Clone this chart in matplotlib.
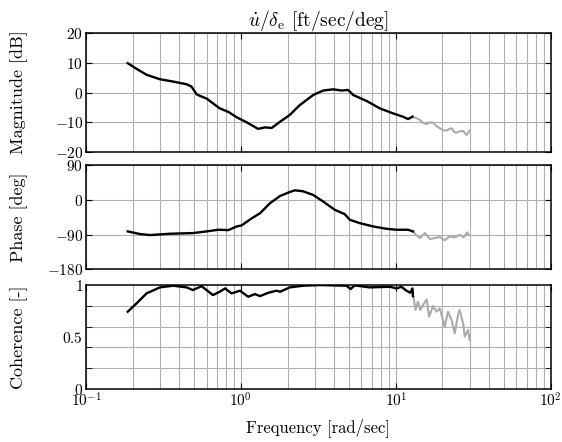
import numpy as np
import matplotlib
matplotlib.use("Agg")
import matplotlib.pyplot as plt
from matplotlib.ticker import FixedLocator, FuncFormatter, LogLocator, NullFormatter

plt.rcParams['font.family'] = 'serif'
plt.rcParams['font.serif'] = ['cmr10', 'DejaVu Serif']
plt.rcParams['mathtext.fontset'] = 'cm'
plt.rcParams['axes.formatter.use_mathtext'] = True
plt.rcParams['font.size'] = 12

# magnitude, coherent part (black) and the rest (gray)
mag_f = [0.186, 0.212, 0.246, 0.30, 0.366, 0.446, 0.48, 0.518, 0.544, 0.60, 0.66, 0.73,
         0.83, 0.94, 1.09, 1.29, 1.43, 1.58, 1.79, 2.07, 2.40, 2.93, 3.40, 3.94, 4.46,
         4.92, 5.3, 6.47, 7.88, 9.6, 11.1, 12.0, 12.8]
mag_db = [9.9, 8.0, 6.0, 4.5, 3.7, 2.8, 2.0, -0.6, -1.1, -2.0, -3.6, -5.3,
          -6.5, -8.3, -10.0, -12.2, -11.7, -11.9, -9.8, -7.5, -4.2, -0.8, 0.7, 1.1, 0.7,
          0.9, -0.8, -2.8, -5.3, -7.0, -8.1, -8.9, -8.1]
mag_f2 = [12.8, 13.6, 14.3, 15.0, 15.8, 16.6, 17.4, 18.3, 19.2, 20.2, 21.2, 22.0, 22.9,
          23.8, 24.6, 25.9, 27.2, 28.6, 30.0]
mag_db2 = [-8.1, -8.6, -9.2, -10.2, -10.6, -10.0, -10.1, -11.3, -12.0, -12.6, -12.8, -12.3,
           -12.0, -13.2, -13.5, -13.0, -12.9, -14.3, -12.8]

ph_f = [0.186, 0.223, 0.259, 0.348, 0.493, 0.60, 0.714, 0.83, 0.94, 1.01, 1.17, 1.33,
        1.54, 1.79, 2.07, 2.23, 2.52, 2.93, 3.40, 4.04, 4.68, 5.05, 5.85, 7.13, 8.7,
        10.1, 12.0, 12.9]
ph_deg = [-81.8, -88.7, -91.3, -87.9, -86.1, -81.8, -77.5, -78.4, -68.9, -66.3, -48.2, -34.5,
          -8.6, 10.3, 20.7, 25.0, 22.4, 12.9, -4.3, -25.8, -37.0, -51.7, -60.3, -68.9, -75.0,
          -77.5, -77.5, -81.8]
ph_f2 = [12.9, 13.6, 14.3, 15.4, 16.6, 17.8, 19.2, 20.7, 22.2, 24.0, 25.8, 27.4, 28.8, 29.6]
ph_deg2 = [-81.8, -92.0, -99.0, -86.0, -101.6, -99.0, -96.5, -105.0, -94.7, -97.3, -90.4,
           -97.3, -84.4, -91.3]

coh_f = [0.186, 0.212, 0.246, 0.30, 0.366, 0.446, 0.49, 0.557, 0.60, 0.66, 0.73, 0.79,
         0.87, 0.985, 1.115, 1.23, 1.33, 1.50, 1.70, 1.79, 2.07, 2.52, 3.23, 4.81, 5.1,
         5.43, 6.77, 9.17, 10.1, 10.86, 11.7, 12.4, 12.8, 12.9]
coh = [0.744, 0.824, 0.92, 0.978, 0.994, 0.978, 0.952, 0.99, 0.952, 0.904, 0.936, 0.968,
       0.92, 0.946, 0.888, 0.913, 0.894, 0.926, 0.946, 0.936, 0.978, 0.994, 1.0, 0.994, 0.962,
       0.997, 0.978, 0.984, 0.968, 0.984, 0.946, 0.926, 0.968, 0.894]
coh_f2 = [12.9, 13.0, 13.4, 13.9, 14.4, 15.0, 15.8, 16.4, 17.4, 18.3, 19.2, 20.7, 21.7,
          22.9, 24.0, 25.2, 25.8, 27.2, 27.8, 29.2, 30.0]
coh2 = [0.894, 0.888, 0.76, 0.84, 0.76, 0.81, 0.862, 0.696, 0.80, 0.744, 0.776, 0.60, 0.744,
        0.663, 0.535, 0.712, 0.76, 0.631, 0.503, 0.567, 0.47]

fig = plt.figure(figsize=(5.62, 4.42), dpi=100)
ax1 = fig.add_axes([0.153, 0.656, 0.827, 0.269])
ax2 = fig.add_axes([0.153, 0.391, 0.827, 0.235])
ax3 = fig.add_axes([0.153, 0.120, 0.827, 0.235])

black = '#000000'
gray = '#aaaaaa'
mfmt = FuncFormatter(lambda v, p: '$%g$' % v)

ax1.plot(mag_f2, mag_db2, color=gray, lw=1.5)
ax1.plot(mag_f, mag_db, color=black, lw=1.7)
ax2.plot(ph_f2, ph_deg2, color=gray, lw=1.5)
ax2.plot(ph_f, ph_deg, color=black, lw=1.7)
ax3.plot(coh_f2, coh2, color=gray, lw=1.5)
ax3.plot(coh_f, coh, color=black, lw=1.7)

for ax in (ax1, ax2, ax3):
    ax.set_xscale('log')
    ax.set_xlim(0.1, 100)
    ax.xaxis.set_major_locator(LogLocator(base=10, numticks=10))
    ax.xaxis.set_minor_locator(LogLocator(base=10, subs=np.arange(2, 10), numticks=10))
    ax.xaxis.set_minor_formatter(NullFormatter())
    ax.grid(True, which='both', axis='x', color='#b0b0b0', lw=0.8)
    ax.tick_params(which='both', direction='in', top=True, right=True, labelsize=11, pad=2)
    ax.tick_params(which='minor', length=0)
    ax.tick_params(which='major', length=4)
    for s in ax.spines.values():
        s.set_linewidth(1.1)
    ax.set_axisbelow(True)

ax1.set_ylim(-20, 20)
ax1.yaxis.set_major_locator(FixedLocator([-20, -10, 0, 10, 20]))
ax1.yaxis.set_major_formatter(mfmt)
ax1.grid(True, axis='y', color='#b0b0b0', lw=0.8)
ax1.tick_params(labelbottom=False)
ax1.set_ylabel('Magnitude [dB]', fontsize=13)
ax1.set_title(r'$\dot{u}/\delta_\mathrm{e}$ [ft/sec/deg]', fontsize=14, pad=4)

ax2.set_ylim(-180, 90)
ax2.yaxis.set_major_locator(FixedLocator([-180, -90, 0, 90]))
ax2.yaxis.set_major_formatter(mfmt)
ax2.grid(True, axis='y', color='#b0b0b0', lw=0.8)
ax2.tick_params(labelbottom=False)
ax2.set_ylabel('Phase [deg]', fontsize=13)

ax3.set_ylim(0, 1)
ax3.yaxis.set_major_locator(FixedLocator([0, 0.5, 1]))
ax3.yaxis.set_major_formatter(mfmt)
ax3.yaxis.set_minor_locator(FixedLocator([0.2, 0.4, 0.6, 0.8]))
ax3.grid(True, axis='y', which='minor', color='#b0b0b0', lw=0.8)
ax3.tick_params(axis='y', which='minor', length=4)
ax3.tick_params(axis='y', which='major', length=0)
ax3.set_ylabel('Coherence [-]', fontsize=13)
ax3.set_xlabel('Frequency [rad/sec]', fontsize=12, labelpad=6)

for ax in (ax1, ax2, ax3):
    ax.yaxis.set_label_coords(-0.125, 0.5)

fig.savefig('out.png', dpi=100)
